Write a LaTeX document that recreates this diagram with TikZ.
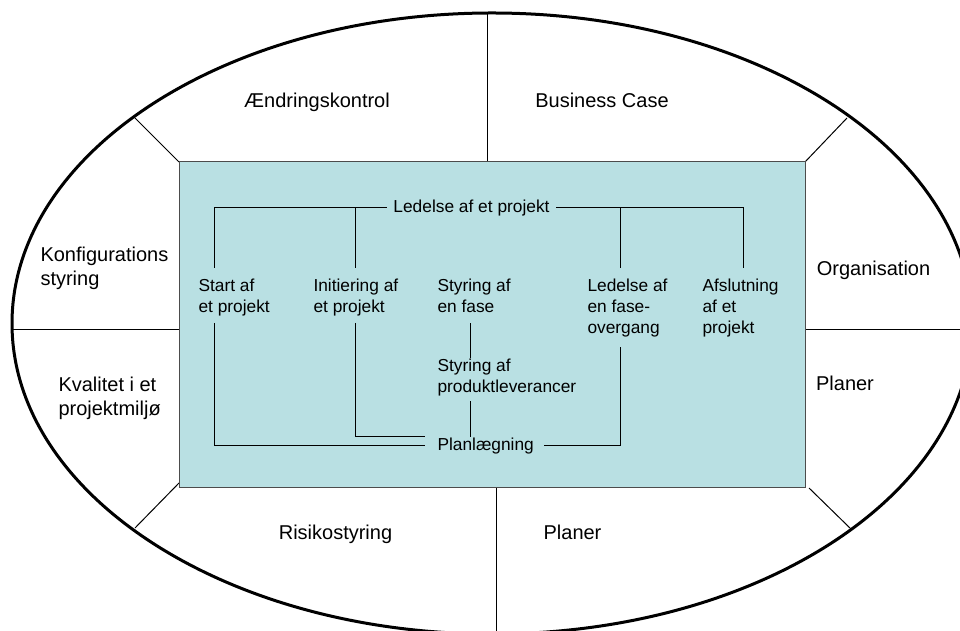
\documentclass[tikz,border=0pt]{standalone}
\usepackage{fontspec}
\setmainfont{Liberation Sans}
\usepackage{tikz}
\definecolor{boxfill}{RGB}{185,224,227}

\begin{document}
\begin{tikzpicture}[x=7.5pt, y=7.5pt, line width=0.75pt,
    area/.style={font=\fontsize{15}{18}\selectfont, align=left, inner sep=0pt},
    proc/.style={font=\fontsize{13}{15.75}\selectfont, align=left, inner sep=0pt, anchor=north west}]
    \clip (0, 0) rectangle (96, 63.1);
    \fill[white] (0, 0) rectangle (96, 63.1);

    % draw dividing lines
    \draw (48.7, 46.9) -- (48.7, 61.8);
    \draw (49.6, 14.3) -- (49.6, 0);
    \draw (1.2, 30.1) -- (17.9, 30.1);
    \draw (80.5, 30.1) -- (96, 30.1);
    \draw (13.5, 51.3) -- (17.9, 46.9);
    \draw (84.7, 51.3) -- (80.5, 46.9);
    \draw (13.5, 10.3) -- (17.9, 14.8);
    \draw (85.2, 10.1) -- (80.9, 14.3);

    % draw inner box
    \filldraw[fill=boxfill, draw=black!70] (17.9, 14.3) rectangle (80.5, 46.9);

    % draw outer ellipse
    \draw[line width=2.25pt] (49.2, 30.75) ellipse (48 and 31.05);

    % draw outer labels
    \node[area, anchor=base] (aendring) at (31.7, 52.3) {Ændringskontrol};
    \node[area, anchor=base] (business) at (60.2, 52.3) {Business Case};
    \node[area, anchor=north west] (konfig) at (4.0, 38.4) {Konfigurations\\styring};
    \node[area, anchor=base] (organisation) at (87.35, 35.5) {Organisation};
    \node[area, anchor=north west] (kvalitet) at (5.8, 25.4) {Kvalitet i et\\projektmiljø};
    \node[area, anchor=base] (planerh) at (84.5, 24.0) {Planer};
    \node[area, anchor=base] (risiko) at (33.55, 9.1) {Risikostyring};
    \node[area, anchor=base] (planerb) at (57.25, 9.1) {Planer};

    % draw processes
    \node[proc, anchor=center, inner xsep=4.5pt] (ledelse) at (47.15, 42.3) {Ledelse af et projekt};
    \node[proc] (start) at (19.8, 35.3) {Start af\\et projekt};
    \node[proc] (init) at (31.3, 35.3) {Initiering af\\et projekt};
    \node[proc] (fase) at (43.7, 35.3) {Styring af\\en fase};
    \node[proc] (overgang) at (58.7, 35.3) {Ledelse af\\en fase-\\overgang};
    \node[proc] (afslut) at (70.2, 35.3) {Afslutning\\af et\\projekt};
    \node[proc] (prod) at (43.7, 27.3) {Styring af\\produktleverancer};
    \node[proc] (plan) at (43.7, 19.4) {Planlægning};

    % draw connections
    \draw[shorten >=7.5pt] (ledelse.west) -| ([xshift=12pt]start.north west);
    \draw[shorten >=7.5pt] (ledelse.west) -| ([xshift=31.5pt]init.north west);
    \draw[shorten >=7.5pt] (ledelse.east) -| ([xshift=24.75pt]overgang.north west);
    \draw[shorten >=7.5pt] (ledelse.east) -| ([xshift=30.75pt]afslut.north west);

    \draw[shorten <=5pt, shorten >=9pt] ([xshift=12pt]start.south west) |- (plan.west);
    \draw[shorten <=5pt, shorten >=9pt] ([xshift=31.5pt]init.south west) |- ([yshift=6.5pt]plan.west);
    \draw[shorten <=8pt] ([xshift=24.75pt]fase.south west) -- ([xshift=24.75pt]prod.north west);
    \draw[shorten <=3.75pt] ([xshift=24.75pt]prod.south west) -- ([xshift=24.75pt]plan.north west);
    \draw[shorten <=7.5pt, shorten >=7pt] ([xshift=24.75pt]overgang.south west) |- (plan.east);
\end{tikzpicture}
\end{document}
